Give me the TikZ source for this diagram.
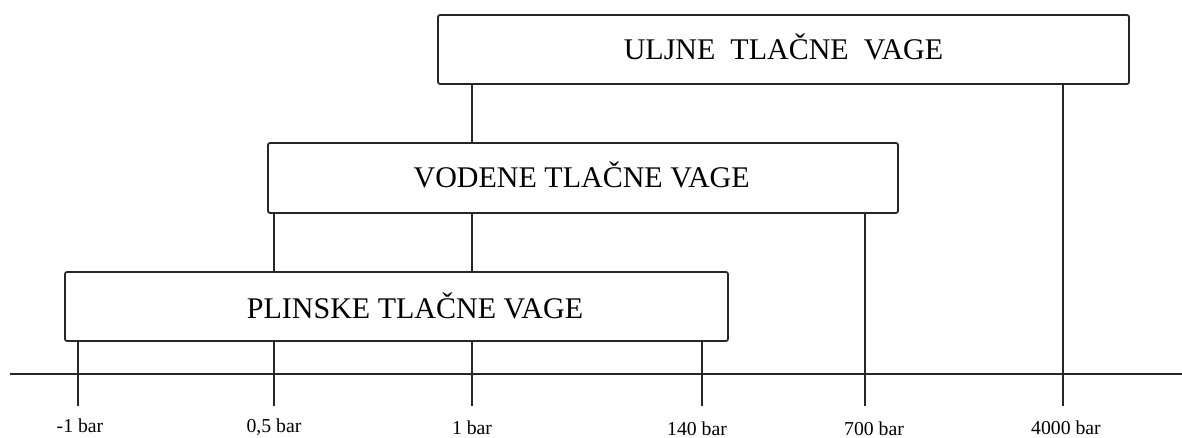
\documentclass[tikz,border=0pt]{standalone}
\usepackage{fontspec}
\setmainfont{Liberation Serif}
\usetikzlibrary{positioning, backgrounds}
\tikzstyle{gaugebox} = [rectangle, rounded corners=1.5pt, inner sep=0pt,
  draw=black!85, line width=1.3pt, fill=white]
\tikzstyle{title} = [font=\fontsize{22.5}{27}\selectfont, inner sep=0pt,
  text height=14.9pt, text depth=0pt]
\tikzstyle{barlabel} = [font=\fontsize{14.8}{17}\selectfont, inner sep=0pt,
  anchor=base]
\tikzstyle{stem} = [draw=black!85, line width=1.3pt]

\begin{document}
\begin{tikzpicture}[x=0.75pt, y=-0.75pt]
\useasboundingbox (0,0) rectangle (1182,438);

%% nodes
\node (uljne) [gaugebox, minimum width=518.25pt, minimum height=51.75pt]
      at (783.5,49.5) {};
\node (vodene) [gaugebox, minimum width=472.5pt, minimum height=52.5pt]
      at (583,178) {};
\node (plinske) [gaugebox, minimum width=497.25pt, minimum height=51.75pt]
      at (396.5,306.5) {};
\node (uljneText) [title] at (uljne.center) {ULJNE\ \ TLAČNE\ \ VAGE};
\node (vodeneText) [title, xshift=-1pt] at (vodene.center) {VODENE TLAČNE VAGE};
\node (plinskeText) [title, xshift=13.9pt, yshift=-1.2pt] at (plinske.center)
      {PLINSKE TLAČNE VAGE};

\coordinate (axisL) at (10,374);
\coordinate (axisR) at (1182,374);
\coordinate (tm1) at (78,406);
\coordinate (t05) at (274,406);
\coordinate (t1) at (472,406);
\coordinate (t140) at (702,406);
\coordinate (t700) at (865,406);
\coordinate (t4000) at (1063,406);

\node (lm1) [barlabel] at (80,432) {-1 bar};
\node (l05) [barlabel] at (274,432) {0,5 bar};
\node (l1) [barlabel] at (472,434) {1 bar};
\node (l140) [barlabel] at (697,435) {140 bar};
\node (l700) [barlabel] at (874,435.5) {700 bar};
\node (l4000) [barlabel] at (1066,434) {4000 bar};

%% paths
\begin{pgfonlayer}{background}
\draw [stem] (axisL) -- (axisR);
\draw [stem] (tm1) -- (tm1 |- plinske.south);
\draw [stem] (t05) -- (t05 |- vodene.south);
\draw [stem] (t1) -- (t1 |- uljne.south);
\draw [stem] (t140) -- (t140 |- plinske.south);
\draw [stem] (t700) -- (t700 |- vodene.south);
\draw [stem] (t4000) -- (t4000 |- uljne.south);
\end{pgfonlayer}

\end{tikzpicture}
\end{document}
